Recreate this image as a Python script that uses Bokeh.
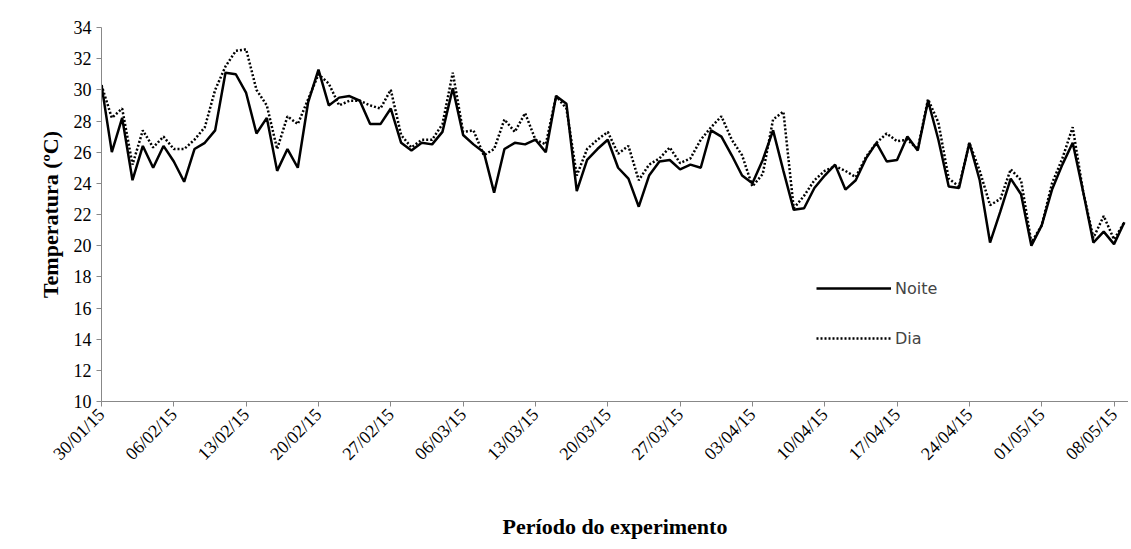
from bokeh.plotting import figure
from bokeh.models import Legend, LegendItem, Range1d, FixedTicker
from bokeh.embed import file_html
from bokeh.resources import INLINE

tick_labels = ["30/01/15","06/02/15","13/02/15","20/02/15","27/02/15","06/03/15","13/03/15",
               "20/03/15","27/03/15","03/04/15","10/04/15","17/04/15","24/04/15","01/05/15","08/05/15"]
noite = [30.3,26,28.2,24.2,26.4,25,26.4,25.4,24.1,26.2,
         26.6,27.4,31.1,31,29.8,27.2,28.2,24.8,26.2,25,
         29.2,31.3,29,29.5,29.6,29.3,27.8,27.8,28.8,26.6,
         26.1,26.6,26.5,27.3,30.1,27.1,26.5,26,23.4,26.2,
         26.6,26.5,26.8,26,29.6,29.1,23.5,25.5,26.2,26.8,
         25,24.3,22.5,24.5,25.4,25.5,24.9,25.2,25,27.4,
         27,25.8,24.5,24,25.5,27.4,24.8,22.3,22.4,23.7,
         24.5,25.2,23.6,24.2,25.6,26.6,25.4,25.5,27,26.1,
         29.3,26.8,23.8,23.7,26.6,24.2,20.2,22.2,24.3,23.3,
         20,21.3,23.6,25.2,26.6,23.5,20.2,20.9,20.1,21.5]
dia = [30.3,28.2,28.8,25.2,27.4,26.3,27,26.2,26.2,26.8,
       27.6,30,31.5,32.5,32.6,30,29,26.2,28.3,27.8,
       29.4,31,30.4,29,29.3,29.3,29.0,28.8,30,27.1,
       26.3,26.8,26.8,27.8,31.1,27.3,27.4,25.8,26.2,28.1,
       27.3,28.5,26.8,26.5,29.6,28.8,24.5,26.2,26.8,27.3,
       25.9,26.4,24.2,25.2,25.6,26.3,25.3,25.6,26.8,27.6,
       28.3,26.8,25.8,23.8,24.6,28.1,28.6,22.4,23.2,24.2,
       24.8,25.1,24.8,24.4,25.7,26.6,27.2,26.7,26.8,26.2,
       29.4,27.9,24.3,23.8,26.6,24.8,22.6,23,24.9,24.2,
       20.2,21.3,24,25.6,27.6,23.5,20.5,21.9,20.4,21.5]
days = list(range(len(noite)))
ticks = [7*i for i in range(len(tick_labels))]

p = figure(width=1128, height=541, output_backend="svg", toolbar_location=None,
           x_range=Range1d(0, 99.4), y_range=Range1d(10, 34),
           min_border_left=101, min_border_right=0, min_border_top=27, min_border_bottom=134)
p.grid.visible = False
p.outline_line_color = None

ln = p.line(days, noite, line_color="black", line_width=2.5)
ld = p.line(days, dia, line_color="black", line_width=2.5, line_dash="2 2")

p.xaxis.ticker = FixedTicker(ticks=ticks)
p.xaxis.major_label_overrides = {t: l for t, l in zip(ticks, tick_labels)}
p.xaxis.major_label_orientation = 0.785
p.yaxis.ticker = FixedTicker(ticks=list(range(10, 35, 2)))
for ax in (p.xaxis, p.yaxis):
    ax.major_label_text_font = "Liberation Serif"
    ax.major_label_text_font_size = "18px"
    ax.major_label_text_color = "black"
    ax.axis_line_color = "#888888"
    ax.major_tick_line_color = "#888888"
    ax.minor_tick_line_color = None
    ax.major_tick_out = 5
    ax.major_tick_in = 0
    ax.axis_label_text_font = "Liberation Serif"
    ax.axis_label_text_font_style = "bold"
    ax.axis_label_text_font_size = "22px"
    ax.axis_label_text_color = "black"
p.xaxis.axis_label = "Período do experimento"
p.yaxis.axis_label = "Temperatura (ºC)"
p.yaxis.axis_label_standoff = 8
p.xaxis.axis_label_standoff = 40

leg = Legend(items=[LegendItem(label="Noite", renderers=[ln]), LegendItem(label="Dia", renderers=[ld])],
             location=(715, 53), border_line_color=None, background_fill_alpha=0,
             label_text_font="DejaVu Sans", label_text_font_size="16px",
             glyph_width=75, spacing=30, label_standoff=4)
p.add_layout(leg)

open("out.html", "w").write(file_html(p, INLINE))
